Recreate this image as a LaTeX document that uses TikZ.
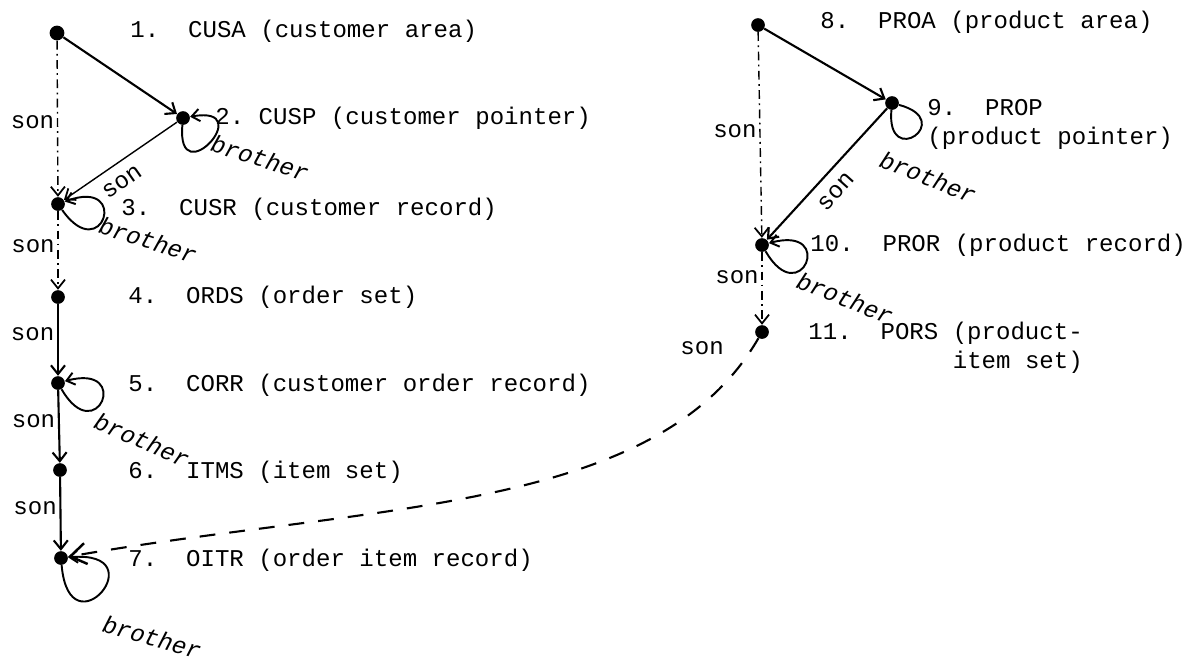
\documentclass[tikz,border=0pt]{standalone}
\usepackage{fontspec}
\setmainfont{Liberation Mono}
\usepackage{tikz}
\usetikzlibrary{arrows.meta}
\tikzstyle{dot} = [circle, fill=black, inner sep=0pt, minimum size=7.8pt]
\tikzstyle{arrow} = [line width=1.2pt, -{Straight Barb[length=5pt,width=8pt,line width=1.2pt]}]
\tikzstyle{thinarrow} = [line width=0.8pt, -{Straight Barb[length=5pt,width=8pt,line width=1pt]}]
\tikzstyle{dasharrow} = [thinarrow, dash pattern=on 5pt off 2.5pt on 1pt off 2.5pt]
\tikzstyle{longdash} = [line width=1.2pt, dash pattern=on 9pt off 8pt, -{Straight Barb[length=9pt,width=12pt,line width=1.4pt]}]
\tikzstyle{loopy} = [line width=1.1pt, -{Straight Barb[length=4.5pt,width=7pt,line width=1.1pt]}, min distance=1.4cm]
\tikzstyle{rec} = [anchor=west, inner sep=0pt, align=left, font=\fontsize{13.7}{16.5}\selectfont]
\tikzstyle{sonlbl} = [inner sep=1.5pt, font=\fontsize{13.7}{16}\selectfont]
\tikzstyle{brolbl} = [inner sep=0pt, font=\fontsize{13.7}{16}\selectfont\itshape]

\begin{document}
\begin{tikzpicture}[x=0.02cm, y=-0.02cm]
\useasboundingbox (0,0) rectangle (1192,667);

% Customer side
\node (cusa) [dot, minimum size=8.4pt] at (57,33) {};
\node (cusp) [dot] at (183,118) {};
\node (cusr) [dot] at (58,204) {};
\node (ords) [dot] at (58,297) {};
\node (corr) [dot] at (58,383) {};
\node (itms) [dot] at (60,470) {};
\node (oitr) [dot] at (61,558) {};

\node (t1) [rec] at (130,31) {1.\ \ CUSA (customer area)};
\node (t2) [rec] at (215,118) {2.\ CUSP (customer pointer)};
\node (t3) [rec] at (121,209) {3.\ \ CUSR (customer record)};
\node (t4) [rec] at (128,297) {4.\ \ ORDS (order set)};
\node (t5) [rec] at (128,385) {5.\ \ CORR (customer order record)};
\node (t6) [rec] at (128,472) {6.\ \ ITMS (item set)};
\node (t7) [rec] at (128,560) {7.\ \ OITR (order item record)};

\draw[arrow] (cusa) -- (cusp);
\draw[dasharrow] (cusa) -- node[sonlbl, left, pos=0.52] {son} (cusr);
\draw[thinarrow] (cusp) -- (cusr);
\node (s23) [sonlbl, rotate=35] at (122,182) {son};
\draw[dasharrow] (cusr) -- node[sonlbl, left, pos=0.45] {son} (ords);
\draw[arrow] (ords) -- node[sonlbl, left, pos=0.42] {son} (corr);
\draw[arrow] (corr) -- node[sonlbl, left, pos=0.42] {son} (itms);
\draw[arrow] (itms) -- node[sonlbl, left, pos=0.42] {son} (oitr);

% brother loops
\draw[loopy] (cusp) to[out=-95, in=10] (cusp);
\draw[loopy] (cusr) to[out=-55, in=20] (cusr);
\draw[loopy] (corr) to[out=-60, in=15] (corr);
\draw[loopy, min distance=1.8cm] (oitr) to[out=-85, in=5] (oitr);
\node (b2) [brolbl, rotate=-18] at (260,158) {brother};
\node (b3) [brolbl, rotate=-18] at (148,240) {brother};
\node (b5) [brolbl, rotate=-24] at (142,440) {brother};
\node (b7) [brolbl, rotate=-16] at (152,637) {brother};

% Product side
\node (proa) [dot] at (758,25) {};
\node (prop) [dot] at (892,103) {};
\node (pror) [dot] at (762,245) {};
\node (pors) [dot] at (762,332) {};

\node (t8) [rec] at (820,22) {8.\ \ PROA (product area)};
\node (t9) [rec] at (927,124) {9.\ \ PROP\\(product pointer)};
\node (t10) [rec] at (810,245) {10.\ \ PROR (product record)};
\node (t11) [rec] at (808,348) {11.\ \ PORS (product-\\\hphantom{11.\ \ PORS\ }item set)};

\draw[arrow] (proa) -- (prop);
\draw[dasharrow] (proa) -- node[sonlbl, left, pos=0.48] {son} (pror);
\draw[arrow] (prop) -- (pror);
\node (s910) [sonlbl, rotate=48] at (836,192) {son};
\draw[dasharrow] (pror) -- node[sonlbl, left, pos=0.35] {son} (pors);

\draw[line width=1.1pt, min distance=1.2cm] (prop) to[out=-95, in=-15] (prop);
\draw[loopy] (pror) to[out=-60, in=15] (pror);
\node (b9) [brolbl, rotate=-22] at (928,177) {brother};
\node (b10) [brolbl, rotate=-22] at (845,298) {brother};

% cross link
\draw[longdash] (pors) to[out=-120, in=10, out looseness=0.72, in looseness=1.08]
  node[sonlbl, pos=0.02, left=14pt] {son} (oitr);
\end{tikzpicture}
\end{document}
